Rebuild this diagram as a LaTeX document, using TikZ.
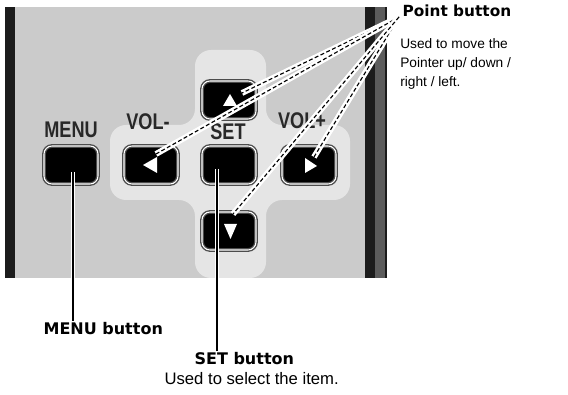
\documentclass[tikz,border=0pt]{standalone}
\usepackage{fontspec}
\setmainfont{Liberation Sans}
\newfontfamily\headfont{DejaVu Sans}
\newfontfamily\keyfont[FakeStretch=0.8]{Liberation Sans}
\usetikzlibrary{calc}
\definecolor{panelgray}{RGB}{203,203,203}
\definecolor{padgray}{RGB}{229,229,229}
\definecolor{bardark}{RGB}{28,28,28}
\definecolor{barmid}{RGB}{92,92,92}
\definecolor{keytext}{RGB}{40,40,40}
\tikzset{
  key/.style  ={draw=black!70, double=white, double distance=0.8pt, line width=1pt,
                fill=black, rounded corners=6pt, minimum width=40.5pt, minimum height=28.5pt, inner sep=0pt},
  keyl/.style ={font=\keyfont\bfseries\fontsize{17}{17}\selectfont, text=keytext, inner sep=0pt, anchor=base},
  hdl/.style  ={font=\headfont\bfseries\fontsize{12}{14}\selectfont, inner sep=1pt, anchor=base west},
  hds/.style  ={font=\headfont\bfseries\fontsize{11.5}{13}\selectfont, inner sep=1pt, anchor=base west},
  txl/.style  ={font=\fontsize{12.5}{14}\selectfont, inner sep=1pt, anchor=base west},
  txs/.style  ={font=\fontsize{10.3}{14.4}\selectfont, inner sep=0pt, align=left, anchor=north west},
  lead/.style ={draw=white, line width=2.6pt, postaction={draw=black, line width=0.8pt}},
  ptr/.style  ={draw=white, line width=4.4pt, line cap=butt,
                postaction={draw=black, line width=0.85pt, dash pattern=on 3pt off 1.8pt}},
}
\begin{document}
\begin{tikzpicture}[x=0.75pt,y=-0.75pt]
  \useasboundingbox (0,0) rectangle (568,395);
  % remote panel
  \fill[panelgray] (15,7) rectangle (365,278);
  \fill[bardark] (5,7) rectangle (15,278);
  \fill[bardark] (365,7) rectangle (375,278);
  \fill[barmid] (375,7) rectangle (385,278);
  \fill[bardark] (385,7) rectangle (387,278);
  \fill[padgray,rounded corners=12pt] (195,50) -- (266,50) -- (266,125) -- (350,125) -- (350,200)
    -- (266,200) -- (266,278) -- (195,278) -- (195,200) -- (110,200) -- (110,125) -- (195,125) -- cycle;
  % keys
  \node[key] (menub) at (71,165) {};
  \node[key] (volm)  at (151,165) {};
  \node[key] (setb)  at (229,165) {};
  \node[key] (volp)  at (309,165) {};
  \node[key] (upb)   at (229,100) {};
  \node[key] (downb) at (229,231) {};
  \node[keyl] (menukl) at (71,138) {MENU};
  \node[keyl] (volmkl) at (148,130) {VOL-};
  \node[keyl] (setkl)  at (228,140) {SET};
  \node[keyl] (volpkl) at (302,129) {VOL+};
  % arrow marks
  \fill[white] ($(upb)+(1,-6)$) -- ($(upb)+(8,6)$) -- ($(upb)+(-6,6)$) -- cycle;
  \fill[white] ($(volm)+(-8,0)$) -- ($(volm)+(6,-8)$) -- ($(volm)+(6,8)$) -- cycle;
  \fill[white] ($(volp)+(8,1)$) -- ($(volp)+(-4,-7)$) -- ($(volp)+(-4,8)$) -- cycle;
  \fill[white] ($(downb)+(1.5,8)$) -- ($(downb)+(-5,-7)$) -- ($(downb)+(8,-7)$) -- cycle;
  % labels
  \node[hds] (pointlab) at (401,17) {Point button};
  \node[txs] (pointtx) at (400,38) {Used to move the\\Pointer up/ down /\\right / left.};
  \node[hdl] (menulab) at (42,335) {MENU button};
  \node[hdl] (setlab) at (193,365) {SET button};
  \node[txl] (settx) at (163,385) {Used to select the item.};
  % lead lines
  \coordinate (menutip) at (73,172);
  \coordinate (settip) at (217,169);
  \draw[lead] (menutip) -- (menutip |- menulab.north);
  \draw[lead] (settip) -- (settip |- setlab.north);
  % pointer lines
  \coordinate (ptsrc) at (399,17);
  \coordinate (upend) at (242,93);
  \coordinate (volmend) at (156,154);
  \coordinate (volpend) at (314,157);
  \coordinate (downend) at (233,214);
  \foreach \e in {upend,volmend,volpend,downend}
    \draw[ptr] (ptsrc) -- (\e);
\end{tikzpicture}
\end{document}
